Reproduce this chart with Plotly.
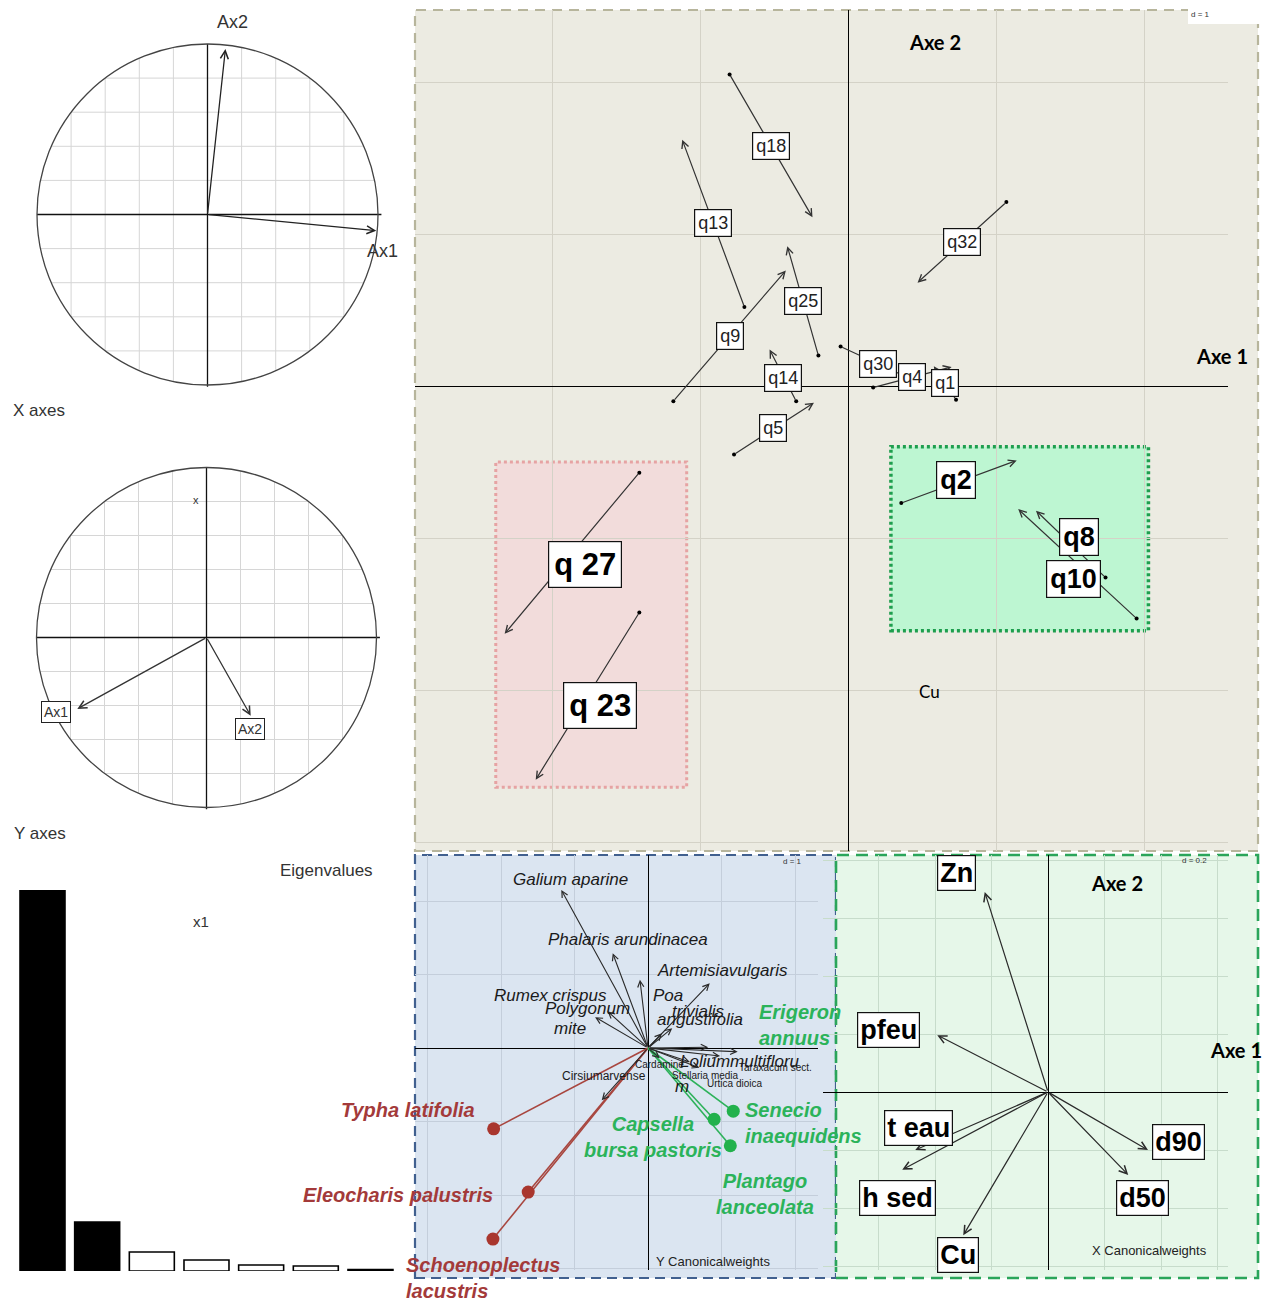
import numpy as np
import plotly.graph_objects as go

# page body has an 8px margin: the figure is drawn from (8, 8)
OFF = 8
W, H = 1273 - OFF, 1304 - OFF

# ---------------- DATA ----------------
# Main panel (s.match): sample arrows from tail (dot) to tip
q_names  = ['q18', 'q13', 'q32', 'q25', 'q9', 'q14', 'q30', 'q4', 'q1', 'q5',
            'q2', 'q8', 'q10', 'q 27', 'q 23']
q_tail_x = [-0.80, -0.70, 1.07, -0.20, -1.18, -0.35, -0.05, 0.17, 0.73, -0.77,
            0.36, 1.74, 1.95, -1.41, -1.41]
q_tail_y = [2.05, 0.52, 1.21, 0.20, -0.10, -0.10, 0.26, -0.01, -0.09, -0.45,
            -0.77, -1.26, -1.53, -0.57, -1.49]
q_tip_x  = [-0.24, -1.12, 0.47, -0.41, -0.42, -0.53, 0.46, 0.70, 0.58, -0.23,
            1.14, 1.27, 1.15, -2.32, -2.11]
q_tip_y  = [1.11, 1.62, 0.68, 0.92, 0.76, 0.24, 0.03, 0.125, 0.13, -0.11,
            -0.49, -0.82, -0.81, -1.63, -2.59]

# Bottom-left: species (Y canonical weights) - black arrows
sp_names = ['Galium aparine', 'Phalaris arundinacea', 'Poa', 'Artemisia vulgaris',
            'Rumex crispus', 'Polygonum', 'Poa trivialis', 'angustifolia',
            'Lolium multiflorum', 'Erigeron annuus', 'Cirsium arvense', 'Cardamine',
            'Stellaria media', 'Urtica dioica', 'Taraxacum sect.']
sp_x = [-1.18, -0.48, -0.11, 0.84, -0.72, -0.55, 0.19, 0.33, 0.82, 1.22, -0.63,
        0.16, 0.57, 0.70, 0.98]
sp_y = [2.15, 1.29, 0.93, 0.88, 0.42, 0.50, 0.20, 0.27, 0.01, -0.05, -0.71,
        -0.14, -0.19, -0.27, -0.11]

sp_lab_text = ['Galium aparine', 'Phalaris arundinacea', 'Artemisiavulgaris', 'Poa',
               'Rumex crispus', 'Polygonum', 'mite', 'trivialis', 'angustifolia',
               'Loliummultifloru', 'm']
sp_lab_x = [-1.06, -0.27, 1.01, 0.27, -1.33, -0.83, -1.06, 0.68, 0.71, 1.25, 0.46]
sp_lab_y = [2.29, 1.47, 1.05, 0.72, 0.72, 0.54, 0.27, 0.49, 0.39, -0.19, -0.53]

small_lab_text = ['Cirsiumarvense', 'Cardamine', 'Stellaria media', 'Urtica dioica',
                  'Taraxacum sect.']
small_lab_x = [-0.60, 0.16, 0.78, 1.18, 1.73]
small_lab_y = [-0.38, -0.22, -0.37, -0.48, -0.27]

red_names = ['Typha latifolia', 'Eleocharis palustris', 'Schoenoplectus<br>lacustris']
red_x = [-2.10, -1.63, -2.11]
red_y = [-1.10, -1.96, -2.60]

green_names = ['Senecio<br>inaequidens', 'Capsella<br>bursa pastoris', 'Plantago<br>lanceolata']
green_x = [1.16, 0.90, 1.12]
green_y = [-0.86, -0.97, -1.33]
erigeron_label = 'Erigeron<br>annuus'
erigeron_xy = (2.07, 0.31)

# Bottom-right: environmental variables (X canonical weights)
env_names = ['Zn', 'pfeu', 't eau', 'h sed', 'Cu', 'd90', 'd50']
env_x = [-0.224, -0.392, -0.470, -0.516, -0.300, 0.354, 0.284]
env_y = [0.690, 0.196, -0.200, -0.268, -0.494, -0.200, -0.286]

# Correlation circles
xcirc_names = ['Ax1', 'Ax2']
xcirc_x = [0.99, 0.105]
xcirc_y = [-0.095, 0.97]
ycirc_names = ['Ax1', 'Ax2']
ycirc_x = [-0.76, 0.26]
ycirc_y = [-0.42, -0.46]

# Eigenvalues
eig_rank = [1, 2, 3, 4, 5, 6, 7]
eig_vals = [0.762, 0.098, 0.038, 0.022, 0.012, 0.010, 0.003]

# ---------------- STYLE / LAYOUT HELPERS ----------------
ARIAL = "Liberation Sans, Arial, sans-serif"
NARROW = "Liberation Sans Narrow, Arial Narrow, Liberation Sans, sans-serif"
CALIB = "Lato, Open Sans, sans-serif"


def clamp(v):
    return min(1.0, max(0.0, v))


def xdom(p0, p1, o, s):
    return [clamp((p0 - OFF) / W), clamp((p1 - OFF) / W)], [(p0 - o) / s, (p1 - o) / s]


def ydom(p0, p1, o, s):
    return [clamp(1 - (p1 - OFF) / H), clamp(1 - (p0 - OFF) / H)], [(o - p1) / s, (o - p0) / s]


def px2paper(px, py):
    return (px - OFF) / W, 1 - (py - OFF) / H


fig = go.Figure()
ann = []
shapes = []


def prect(x0, y0, x1, y1, fill, line=None, width=0, dash=None, layer='below'):
    a, b = px2paper(x0, y1)
    c, d = px2paper(x1, y0)
    shapes.append(dict(type='rect', xref='paper', yref='paper', x0=a, y0=b, x1=c, y1=d,
                       fillcolor=fill, line=dict(color=line or 'rgba(0,0,0,0)', width=width,
                                                 dash=dash), layer=layer))

prect(415, 10, 1258, 851, '#ecebe2', '#b7b59c', 2.2, '10px,7px')
prect(1188, 7, 1262, 24, 'white')
prect(415, 855, 836, 1278, '#dbe5f1', '#41608f', 2.2, '10px,6px')
prect(836, 855, 1258, 1278, '#e6f7e9', '#2aa55a', 2.6, '12px,7px')

axis_common = dict(showticklabels=False, ticks='', showline=False, fixedrange=True)

lay = {}
# main panel axes
dx, rx = xdom(415, 1228, 848, 148)
dy, ry = ydom(10, 851, 386, 152)
lay['xaxis'] = dict(domain=dx, range=rx, anchor='y', showgrid=True, gridcolor='#d4d2c7',
                    gridwidth=1, tick0=0, dtick=1, zeroline=True, zerolinecolor='black',
                    zerolinewidth=1.3, **axis_common)
lay['yaxis'] = dict(domain=dy, range=ry, anchor='x', showgrid=True, gridcolor='#d4d2c7',
                    gridwidth=1, tick0=0, dtick=1, zeroline=True, zerolinecolor='black',
                    zerolinewidth=1.3, **axis_common)

# bottom-left
dx, rx = xdom(415, 818, 648, 73.5)
dy, ry = ydom(855, 1270, 1048, 73.5)
lay['xaxis2'] = dict(domain=dx, range=rx, anchor='y2', showgrid=True, gridcolor='#c4cedb',
                     tick0=0, dtick=1, zeroline=True, zerolinecolor='black',
                     zerolinewidth=1.3, **axis_common)
lay['yaxis2'] = dict(domain=dy, range=ry, anchor='x2', showgrid=True, gridcolor='#c4cedb',
                     tick0=0, dtick=1, zeroline=True, zerolinecolor='black',
                     zerolinewidth=1.3, **axis_common)

# bottom-right
dx, rx = xdom(823, 1228, 1048, 282.5)
dy, ry = ydom(855, 1270, 1092, 290)
lay['xaxis3'] = dict(domain=dx, range=rx, anchor='y3', showgrid=True, gridcolor='#c7dccb',
                     tick0=0, dtick=0.2, zeroline=True, zerolinecolor='black',
                     zerolinewidth=1.3, **axis_common)
lay['yaxis3'] = dict(domain=dy, range=ry, anchor='x3', showgrid=True, gridcolor='#c7dccb',
                     tick0=0, dtick=0.2, zeroline=True, zerolinecolor='black',
                     zerolinewidth=1.3, **axis_common)

# circles
R = 1.16
dx, rx = xdom(207.5 - R * 170.5, 207.5 + R * 170.5, 207.5, 170.5)
dy, ry = ydom(214.5 - R * 170.5, 214.5 + R * 170.5, 214.5, 170.5)
lay['xaxis4'] = dict(domain=dx, range=rx, anchor='y4', visible=False, fixedrange=True)
lay['yaxis4'] = dict(domain=dy, range=ry, anchor='x4', visible=False, fixedrange=True)
dx, rx = xdom(206.5 - R * 170, 206.5 + R * 170, 206.5, 170)
dy, ry = ydom(637.5 - R * 170, 637.5 + R * 170, 637.5, 170)
lay['xaxis5'] = dict(domain=dx, range=rx, anchor='y5', visible=False, fixedrange=True)
lay['yaxis5'] = dict(domain=dy, range=ry, anchor='x5', visible=False, fixedrange=True)

# eigenvalue bars
ex0, _ = px2paper(15.17, 0)
ex1, _ = px2paper(397.8, 0)
_, ey0 = px2paper(0, 1271)
_, ey1 = px2paper(0, 890)
lay['xaxis6'] = dict(domain=[clamp(ex0), clamp(ex1)], range=[0.5, 7.5], anchor='y6',
                     visible=False, fixedrange=True)
lay['yaxis6'] = dict(domain=[clamp(ey0), clamp(ey1)], range=[0, max(eig_vals)],
                     anchor='x6', visible=False, fixedrange=True)

# ---------------- CIRCLES ----------------
def circle_grid():
    xs, ys = [], []
    for v in np.arange(-0.8, 0.81, 0.2):
        if abs(v) < 1e-9:
            continue
        h = float(np.sqrt(1 - v * v))
        xs += [v, v, None]; ys += [-h, h, None]
        xs += [-h, h, None]; ys += [v, v, None]
    return xs, ys

gx, gy = circle_grid()
for k in ('4', '5'):
    fig.add_trace(go.Scatter(x=gx, y=gy, mode='lines', line=dict(color='#d6d6d6', width=1),
                             xaxis='x' + k, yaxis='y' + k, hoverinfo='skip'))
    fig.add_trace(go.Scatter(x=[-1, 1.02, None, 0, 0], y=[0, 0, None, -1.01, 1.0],
                             mode='lines', line=dict(color='#111', width=1.3),
                             xaxis='x' + k, yaxis='y' + k, hoverinfo='skip'))
    shapes.append(dict(type='circle', xref='x' + k, yref='y' + k, x0=-1, y0=-1, x1=1, y1=1,
                       line=dict(color='#444', width=1.3), layer='above'))


def arrow(xr, yr, x0, y0, x1, y1, color='#333', width=1.2, size=1.2, head=5):
    return dict(xref=xr, yref=yr, axref=xr, ayref=yr, x=x1, y=y1, ax=x0, ay=y0, text='',
                showarrow=True, arrowhead=head, arrowsize=size, arrowwidth=width,
                arrowcolor=color, standoff=0)

for i, n in enumerate(xcirc_names):
    ann.append(arrow('x4', 'y4', 0, 0, xcirc_x[i], xcirc_y[i], color='#222', width=1.3))
xc_off = {'Ax1': (6, -20), 'Ax2': (7, 27)}
for i, n in enumerate(xcirc_names):
    ann.append(dict(xref='x4', yref='y4', x=xcirc_x[i], y=xcirc_y[i], text=n, showarrow=False,
                    xshift=xc_off[n][0], yshift=xc_off[n][1],
                    font=dict(family=ARIAL, size=18, color='#333')))
for i, n in enumerate(ycirc_names):
    ann.append(arrow('x5', 'y5', 0, 0, ycirc_x[i], ycirc_y[i], color='#333', width=1.3))
yc_off = {'Ax1': (-21, -3), 'Ax2': (-1, -13)}
for i, n in enumerate(ycirc_names):
    ann.append(dict(xref='x5', yref='y5', x=ycirc_x[i], y=ycirc_y[i], text=n, showarrow=False,
                    xshift=yc_off[n][0], yshift=yc_off[n][1], bgcolor='white',
                    bordercolor='#222', borderwidth=1, borderpad=2,
                    font=dict(family=ARIAL, size=14, color='#333')))
ann.append(dict(xref='x5', yref='y5', x=-0.06, y=0.81, text='x', showarrow=False,
                font=dict(family=ARIAL, size=11, color='#333')))
ann.append(dict(xref='x4', yref='y4', x=-1.15, y=-1.147, xanchor='left', text='X axes',
                showarrow=False, font=dict(family=ARIAL, size=17, color='#333')))
ann.append(dict(xref='x5', yref='y5', x=-1.144, y=-1.15, xanchor='left', text='Y axes',
                showarrow=False, font=dict(family=ARIAL, size=17, color='#333')))

# ---------------- EIGENVALUES ----------------
fig.add_trace(go.Bar(x=eig_rank, y=eig_vals, xaxis='x6', yaxis='y6', width=0.823,
                     marker=dict(color=['black', 'black'] + ['white'] * 5,
                                 line=dict(color='black', width=1.6)),
                     hoverinfo='skip'))
ex, ey = px2paper(326, 870)
ann.append(dict(xref='paper', yref='paper', x=ex, y=ey, xanchor='center', yanchor='middle',
                text='Eigenvalues', showarrow=False,
                font=dict(family=ARIAL, size=17, color='#333')))
ex, ey = px2paper(201, 921)
ann.append(dict(xref='paper', yref='paper', x=ex, y=ey, xanchor='center', yanchor='middle',
                text='x1', showarrow=False, font=dict(family=ARIAL, size=15, color='#333')))

# ---------------- MAIN PANEL ----------------
shapes.append(dict(type='rect', xref='x', yref='y', x0=-2.38, x1=-1.09, y0=-2.64, y1=-0.50,
                   fillcolor='#f2dcdb', line=dict(color='#e6a3a3', width=3, dash='3px,3px'),
                   layer='below'))
shapes.append(dict(type='rect', xref='x', yref='y', x0=0.29, x1=2.03, y0=-1.61, y1=-0.40,
                   fillcolor='#bdf6d2', line=dict(color='#1e9e4e', width=3.5, dash='3px,3px'),
                   layer='below'))

for i in range(len(q_names)):
    ann.append(arrow('x', 'y', q_tail_x[i], q_tail_y[i], q_tip_x[i], q_tip_y[i],
                     color='#333', width=1.2, size=1.15))
fig.add_trace(go.Scatter(x=q_tail_x, y=q_tail_y, mode='markers', xaxis='x', yaxis='y',
                         marker=dict(color='black', size=4), hoverinfo='skip'))

q_shift = {'q2': (-3, 2), 'q8': (8, 7), 'q10': (-4, -15), 'q 27': (13, -11),
           'q 23': (12, -9), 'q5': (-1, 1), 'q14': (0, -3)}
big = {'q2': 27, 'q8': 27, 'q10': 27, 'q 27': 31, 'q 23': 31}
for i, n in enumerate(q_names):
    mx = (q_tail_x[i] + q_tip_x[i]) / 2
    my = (q_tail_y[i] + q_tip_y[i]) / 2
    sx, sy = q_shift.get(n, (0, 0))
    if n in big:
        txt = '<b>%s</b>' % n
        fnt = dict(family=NARROW, size=big[n], color='black')
        pad = 3 if big[n] < 30 else 5
    else:
        txt = n
        fnt = dict(family=NARROW, size=18, color='#222')
        pad = 3
    ann.append(dict(xref='x', yref='y', x=mx, y=my, text=txt, showarrow=False,
                    xshift=sx, yshift=sy, font=fnt, bgcolor='white', bordercolor='#111',
                    borderwidth=1.2, borderpad=pad))

ann.append(dict(xref='x', yref='y', x=0.59, y=2.26, text='<b>Axe 2</b>', showarrow=False,
                font=dict(family=CALIB, size=20, color='black')))
ann.append(dict(xref='x', yref='y', x=2.53, y=0.20, text='<b>Axe 1</b>', showarrow=False,
                font=dict(family=CALIB, size=20, color='black')))
ann.append(dict(xref='x', yref='y', x=0.55, y=-2.01, text='Cu', showarrow=False,
                font=dict(family=CALIB, size=17, color='black')))
dxp, dyp = px2paper(1200, 15)
ann.append(dict(xref='paper', yref='paper', x=dxp, y=dyp, xanchor='center', yanchor='middle',
                text='d = 1', showarrow=False, font=dict(family=ARIAL, size=8, color='#333')))

# ---------------- BOTTOM-LEFT (species) ----------------
for i in range(len(red_names)):
    fig.add_trace(go.Scatter(x=[0, red_x[i]], y=[0, red_y[i]], mode='lines',
                             line=dict(color='#a8463f', width=1.6), xaxis='x2', yaxis='y2',
                             hoverinfo='skip'))
for i in range(len(green_names)):
    fig.add_trace(go.Scatter(x=[0, green_x[i]], y=[0, green_y[i]], mode='lines',
                             line=dict(color='#2db25a', width=1.6), xaxis='x2', yaxis='y2',
                             hoverinfo='skip'))
fig.add_trace(go.Scatter(x=red_x, y=red_y, mode='markers', xaxis='x2', yaxis='y2',
                         marker=dict(color='#a9362e', size=13), hoverinfo='skip'))
fig.add_trace(go.Scatter(x=green_x, y=green_y, mode='markers', xaxis='x2', yaxis='y2',
                         marker=dict(color='#22b14c', size=13), hoverinfo='skip'))

for i in range(len(sp_names)):
    ann.append(arrow('x2', 'y2', 0, 0, sp_x[i], sp_y[i], color='#2a2a2a', width=1.1, size=1.1))
for i, t in enumerate(sp_lab_text):
    ann.append(dict(xref='x2', yref='y2', x=sp_lab_x[i], y=sp_lab_y[i], text='<i>%s</i>' % t,
                    showarrow=False, font=dict(family=ARIAL, size=17, color='#1a1a1a')))
for i, t in enumerate(small_lab_text):
    ann.append(dict(xref='x2', yref='y2', x=small_lab_x[i], y=small_lab_y[i], text=t,
                    showarrow=False,
                    font=dict(family=ARIAL, size=12 if i == 0 else 10, color='#1a1a1a')))

red_off = [(-86, 19, 'center'), (-130, -3, 'center'), (-10, -39, 'left')]
for i, n in enumerate(red_names):
    sx, sy, al = red_off[i]
    ann.append(dict(xref='x2', yref='y2', x=red_x[i], y=red_y[i], text='<b><i>%s</i></b>' % n,
                    showarrow=False, xshift=sx, yshift=sy, align=al,
                    font=dict(family=ARIAL, size=20, color='#a33a3a')))
green_off = [(70, -12, 'left'), (-61, -18, 'center'), (35, -48, 'center')]
for i, n in enumerate(green_names):
    sx, sy, al = green_off[i]
    ann.append(dict(xref='x2', yref='y2', x=green_x[i], y=green_y[i],
                    text='<b><i>%s</i></b>' % n, showarrow=False, xshift=sx, yshift=sy,
                    align=al, font=dict(family=ARIAL, size=20, color='#2bb35a')))
ann.append(dict(xref='x2', yref='y2', x=erigeron_xy[0], y=erigeron_xy[1],
                text='<b><i>%s</i></b>' % erigeron_label, showarrow=False, align='left',
                font=dict(family=ARIAL, size=20, color='#2bb35a')))
ann.append(dict(xref='x2', yref='y2', x=0.88, y=-2.90, text='Y Canonicalweights',
                showarrow=False, font=dict(family=ARIAL, size=13, color='#222')))
ann.append(dict(xref='x2', yref='y2', x=1.96, y=2.54, text='d = 1', showarrow=False,
                font=dict(family=ARIAL, size=8, color='#333')))

# ---------------- BOTTOM-RIGHT (environment) ----------------
for i in range(len(env_names)):
    ann.append(arrow('x3', 'y3', 0, 0, env_x[i], env_y[i], color='#2a2a2a', width=1.2, size=1.3))
env_off = {'Zn': (-28, 19), 'pfeu': (-49, 5), 't eau': (3, 22), 'h sed': (-5, -28),
           'Cu': (-5, -20), 'd90': (30, 8), 'd50': (14, -23)}
for i, n in enumerate(env_names):
    sx, sy = env_off[n]
    ann.append(dict(xref='x3', yref='y3', x=env_x[i], y=env_y[i], text='<b>%s</b>' % n,
                    showarrow=False, xshift=sx, yshift=sy, bgcolor='white',
                    bordercolor='#111', borderwidth=1.2, borderpad=2,
                    font=dict(family=ARIAL, size=27, color='black')))
ann.append(dict(xref='x3', yref='y3', x=0.244, y=0.72, text='<b>Axe 2</b>', showarrow=False,
                font=dict(family=CALIB, size=20, color='black')))
ann.append(dict(xref='x3', yref='y3', x=0.55, y=0.145, xshift=33, text='<b>Axe 1</b>',
                showarrow=False, font=dict(family=CALIB, size=20, color='black')))
ann.append(dict(xref='x3', yref='y3', x=0.361, y=-0.548, text='X Canonicalweights',
                showarrow=False, font=dict(family=ARIAL, size=13, color='#222')))
ann.append(dict(xref='x3', yref='y3', x=0.52, y=0.797, text='d = 0.2', showarrow=False,
                font=dict(family=ARIAL, size=8, color='#333')))

fig.update_layout(width=W, height=H, margin=dict(l=0, r=0, t=0, b=0), autosize=False,
                  paper_bgcolor='white', plot_bgcolor='rgba(0,0,0,0)', showlegend=False,
                  template='none', font=dict(family=ARIAL), shapes=shapes, annotations=ann,
                  **lay)

fig.write_html('out.html')
